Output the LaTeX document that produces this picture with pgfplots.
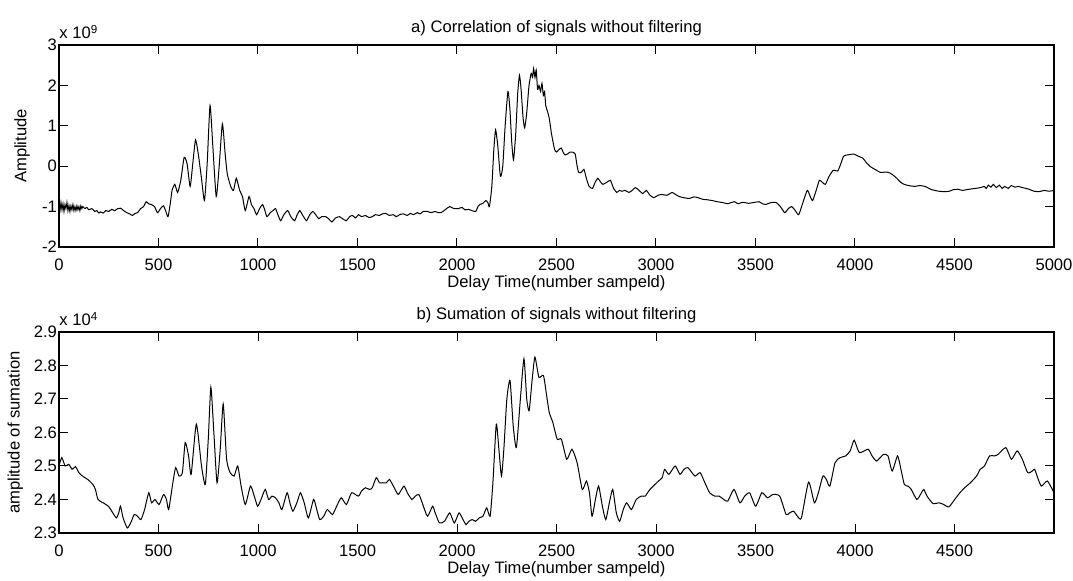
\documentclass[border=0pt]{standalone}
\usepackage{fontspec}
\setmainfont{Liberation Sans}
\usepackage{pgfplots}
\pgfplotsset{compat=1.18}
\begin{document}
\begin{tikzpicture}
\pgfplotsset{
  mstyle/.style={
    scale only axis, width=497.5pt,
    font=\fontsize{8.3}{9.5}\selectfont,
    tick align=inside, xtick pos=both, ytick pos=both,
    major tick length=4.5pt,
    axis line style={line width=0.6pt},
    every tick/.style={black, line width=0.5pt},
    /pgf/number format/assume math mode=true,
    /pgf/number format/1000 sep={},
    scaled ticks=false,
    xticklabel style={yshift=-2.5pt},
    yticklabel style={xshift=2.5pt},
    title style={at={(0.5,1)}, anchor=base},
    xlabel style={at={(0.5,0)}, anchor=base, yshift=-20.5pt},
    clip mode=individual,
  }
}
\path[use as bounding box] (0,0) rectangle (536.5pt,290.5pt);
% ---------------- top axis ----------------
\begin{axis}[mstyle, at={(29.5pt,167pt)}, anchor=south west, height=101pt,
  xmin=0, xmax=5000, ymin=-2, ymax=3,
  xtick={0,500,...,5000}, ytick={-2,-1,0,1,2,3},
  title={a) Correlation of signals without filtering},
  xlabel={Delay Time(number sampeld)},
  ylabel={Amplitude},
  ylabel style={at={(axis description cs:-0.037,0.5)}, anchor=center},
]
\addplot[black, line width=0.5pt] coordinates {
(0,-0.95)(5,-1.1)(10,-0.9)(15,-1.08)(20,-0.93)(25,-1.12)(30,-0.95)(35,-1.05)(40,-0.9)(45,-1.1)
(50,-0.97)(55,-1.12)(60,-0.98)(65,-1.08)(70,-0.95)(75,-1.1)(80,-1.0)(85,-1.1)(90,-0.98)(95,-1.08)
(100,-1.0)(105,-1.1)(110,-0.98)(115,-1.05)(120,-1.0)(130,-1.05)
};
\addplot[black, line width=0.5pt, smooth, tension=0.35] coordinates {
(130,-1.05)(140,-1.02)(150,-1.08)(165,-1.05)
(180,-1.12)(190,-1.1)(200,-1.16)(210,-1.13)(222,-1.16)(235,-1.1)(250,-1.12)(265,-1.07)(280,-1.1)
(295,-1.05)(310,-1.04)(325,-1.1)(340,-1.15)(355,-1.18)(369,-1.22)(382,-1.17)(395,-1.15)(410,-1.05)
(425,-1.0)(438,-0.88)(450,-0.93)(464,-0.95)(480,-1.0)(495,-1.15)(510,-1.05)(525,-0.98)(537,-1.12)
(548,-1.25)(560,-0.9)(568,-0.6)(582,-0.45)(596,-0.65)(612,-0.35)(629,0.22)(644,0.05)(659,-0.5)
(672,0.05)(686,0.65)(700,0.3)(716,-0.3)(731,-0.85)(745,0.1)(759,1.5)(773,0.5)(790,-0.75)(805,0.0)
(821,1.05)(835,0.3)(846,-0.2)(863,-0.5)(877,-0.6)(891,-0.3)(908,-0.6)(922,-0.75)(936,-1.1)(955,-0.75)
(967,-0.95)(980,-1.05)(993,-1.2)(1008,-1.05)(1023,-0.95)(1035,-1.1)(1045,-1.25)(1062,-1.15)(1075,-1.1)
(1088,-1.05)(1100,-1.2)(1114,-1.35)(1130,-1.2)(1149,-1.1)(1165,-1.25)(1184,-1.35)(1197,-1.2)(1210,-1.1)
(1225,-1.22)(1244,-1.35)(1260,-1.2)(1276,-1.12)(1290,-1.2)(1305,-1.3)(1320,-1.25)(1340,-1.25)(1355,-1.3)
(1371,-1.38)(1390,-1.28)(1409,-1.25)(1425,-1.3)(1444,-1.35)(1460,-1.25)(1475,-1.22)(1490,-1.28)
(1505,-1.2)(1520,-1.25)(1540,-1.22)(1557,-1.27)(1574,-1.25)(1590,-1.2)(1610,-1.22)(1625,-1.18)
(1643,-1.17)(1660,-1.22)(1680,-1.2)(1695,-1.25)(1712,-1.2)(1730,-1.18)(1750,-1.22)(1765,-1.17)
(1782,-1.2)(1800,-1.15)(1815,-1.18)(1830,-1.12)(1851,-1.12)(1870,-1.15)(1890,-1.12)(1905,-1.15)
(1920,-1.15)(1940,-1.08)(1963,-1.0)(1985,-1.05)(2007,-1.05)(2025,-1.02)(2040,-1.08)(2059,-1.07)
(2075,-1.1)(2094,-1.12)(2105,-1.0)(2114,-0.95)(2130,-0.92)(2145,-0.85)(2155,-0.9)(2163,-1.0)
(2175,-0.5)(2185,0.4)(2194,0.9)(2205,0.5)(2218,-0.25)(2230,0.0)(2242,1.0)(2256,1.85)(2266,1.4)
(2275,0.6)(2284,0.15)(2295,0.8)(2305,1.8)(2314,2.25)(2322,1.9)(2332,1.2)(2340,0.95)(2350,1.3)
(2362,2.0)(2373,2.3)(2380,2.2)(2385,2.42)(2392,2.2)(2398,2.38)(2405,1.9)(2412,2.0)(2420,1.85)
(2427,2.05)(2434,1.75)(2440,1.85)(2446,1.5)(2455,1.35)(2463,1.2)(2475,0.8)(2490,0.42)(2500,0.35)
(2510,0.4)(2524,0.45)(2533,0.35)(2542,0.28)(2555,0.3)(2568,0.35)(2580,0.35)(2594,0.3)(2602,0.05)
(2611,-0.15)(2625,-0.15)(2638,-0.08)(2650,-0.3)(2664,-0.5)(2681,-0.55)(2694,-0.4)(2707,-0.3)
(2720,-0.38)(2733,-0.45)(2752,-0.4)(2771,-0.35)(2787,-0.55)(2803,-0.65)(2816,-0.6)(2829,-0.62)
(2846,-0.6)(2864,-0.65)(2880,-0.6)(2896,-0.53)(2915,-0.6)(2934,-0.68)(2951,-0.6)(2970,-0.72)
(2989,-0.78)(3010,-0.72)(3029,-0.7)(3055,-0.72)(3081,-0.65)(3098,-0.7)(3116,-0.75)(3140,-0.78)
(3168,-0.8)(3190,-0.76)(3212,-0.78)(3235,-0.82)(3256,-0.83)(3282,-0.85)(3308,-0.88)(3335,-0.9)
(3360,-0.93)(3378,-0.9)(3395,-0.88)(3412,-0.93)(3430,-0.9)(3447,-0.9)(3464,-0.92)(3490,-0.9)
(3517,-0.88)(3535,-0.93)(3551,-0.95)(3578,-0.9)(3604,-0.9)(3625,-1.0)(3647,-1.15)(3665,-1.05)
(3682,-1.0)(3700,-1.1)(3717,-1.2)(3735,-0.95)(3760,-0.6)(3775,-0.75)(3787,-0.85)(3805,-0.6)
(3821,-0.35)(3836,-0.4)(3851,-0.45)(3870,-0.25)(3891,-0.1)(3913,-0.12)(3928,0.05)(3943,0.25)
(3965,0.28)(3995,0.3)(4015,0.25)(4039,0.2)(4055,0.1)(4074,0.0)(4090,-0.05)(4108,-0.1)(4125,-0.15)
(4143,-0.15)(4165,-0.15)(4186,-0.2)(4210,-0.3)(4230,-0.4)(4247,-0.45)(4270,-0.48)(4300,-0.5)
(4325,-0.48)(4352,-0.5)(4385,-0.58)(4422,-0.62)(4448,-0.63)(4474,-0.62)(4495,-0.58)(4517,-0.57)
(4540,-0.6)(4561,-0.58)(4590,-0.56)(4631,-0.53)(4650,-0.5)(4660,-0.55)(4670,-0.47)(4683,-0.52)
(4695,-0.45)(4710,-0.53)(4725,-0.47)(4740,-0.55)(4752,-0.5)(4770,-0.55)(4785,-0.48)(4805,-0.52)
(4820,-0.5)(4840,-0.53)(4860,-0.55)(4874,-0.57)(4900,-0.62)(4926,-0.63)(4950,-0.6)(4975,-0.62)(5000,-0.6)
};
\node[anchor=base west, inner sep=0pt, yshift=3pt] at (rel axis cs:0,1) {x 10\textsuperscript{9}};
\end{axis}
% ---------------- bottom axis ----------------
\begin{axis}[mstyle, at={(29.5pt,24pt)}, anchor=south west, height=100.5pt,
  xmin=0, xmax=4999, ymin=2.3, ymax=2.9,
  xtick={0,500,...,4500}, ytick={2.3,2.4,...,2.9},
  yticklabel style={/pgf/number format/.cd, fixed, fixed zerofill, precision=1},
  title={b) Sumation of signals without filtering},
  xlabel={Delay Time(number sampeld)},
  ylabel={amplitude of sumation},
  ylabel style={at={(axis description cs:-0.044,0.5)}, anchor=center},
]
\addplot[black, line width=0.5pt, smooth, tension=0.35] coordinates {
(0,2.5)(14,2.525)(31,2.5)(49,2.505)(66,2.49)(83,2.498)(100,2.48)(118,2.47)(144,2.46)(170,2.445)
(183,2.43)(196,2.4)(222,2.39)(248,2.38)(265,2.365)(288,2.345)(300,2.36)(309,2.38)(322,2.345)
(343,2.315)(360,2.33)(378,2.355)(395,2.35)(412,2.34)(430,2.37)(451,2.42)(465,2.39)(482,2.4)
(503,2.385)(525,2.415)(540,2.4)(551,2.37)(572,2.45)(586,2.495)(603,2.47)(620,2.48)(634,2.57)
(651,2.53)(664,2.475)(690,2.625)(716,2.5)(735,2.445)(750,2.58)(763,2.735)(778,2.6)(794,2.45)
(810,2.55)(825,2.685)(842,2.52)(860,2.48)(880,2.47)(898,2.5)(915,2.44)(936,2.385)(962,2.44)
(981,2.41)(998,2.38)(1015,2.4)(1036,2.43)(1053,2.4)(1070,2.41)(1088,2.405)(1105,2.39)(1120,2.37)
(1146,2.42)(1160,2.39)(1175,2.365)(1195,2.39)(1213,2.42)(1232,2.39)(1253,2.345)(1279,2.4)
(1295,2.37)(1310,2.34)(1330,2.35)(1348,2.37)(1374,2.355)(1395,2.38)(1418,2.405)(1444,2.385)
(1470,2.42)(1504,2.41)(1520,2.425)(1539,2.435)(1560,2.43)(1574,2.435)(1594,2.465)(1610,2.45)
(1626,2.45)(1645,2.45)(1660,2.46)(1680,2.44)(1704,2.415)(1733,2.44)(1750,2.42)(1773,2.4)
(1790,2.41)(1808,2.415)(1825,2.39)(1851,2.35)(1877,2.38)(1890,2.36)(1911,2.33)(1937,2.335)
(1963,2.36)(1986,2.33)(2010,2.36)(2030,2.34)(2045,2.325)(2060,2.335)(2076,2.34)(2093,2.335)
(2111,2.345)(2130,2.35)(2149,2.375)(2166,2.35)(2180,2.45)(2197,2.625)(2210,2.55)(2223,2.47)
(2235,2.55)(2250,2.7)(2266,2.755)(2282,2.62)(2298,2.555)(2318,2.7)(2336,2.82)(2350,2.7)
(2362,2.665)(2376,2.75)(2391,2.825)(2411,2.765)(2434,2.77)(2450,2.71)(2463,2.66)(2481,2.63)
(2503,2.58)(2524,2.58)(2551,2.52)(2577,2.55)(2603,2.51)(2629,2.43)(2650,2.455)(2665,2.42)
(2678,2.35)(2695,2.4)(2711,2.44)(2730,2.38)(2747,2.34)(2765,2.39)(2782,2.43)(2800,2.36)
(2817,2.335)(2835,2.37)(2852,2.39)(2876,2.37)(2900,2.4)(2925,2.41)(2945,2.41)(2969,2.43)
(3012,2.455)(3030,2.465)(3043,2.49)(3064,2.475)(3096,2.5)(3120,2.475)(3140,2.49)(3160,2.495)
(3195,2.47)(3221,2.48)(3245,2.45)(3269,2.42)(3295,2.41)(3317,2.41)(3340,2.4)(3360,2.395)
(3391,2.43)(3421,2.39)(3445,2.41)(3470,2.42)(3500,2.38)(3531,2.42)(3560,2.405)(3586,2.415)
(3621,2.41)(3653,2.355)(3670,2.36)(3691,2.365)(3710,2.35)(3730,2.345)(3766,2.452)(3795,2.39)
(3815,2.42)(3838,2.47)(3855,2.46)(3873,2.44)(3899,2.51)(3925,2.525)(3952,2.53)(3975,2.545)
(3995,2.577)(4021,2.54)(4065,2.55)(4085,2.53)(4108,2.515)(4143,2.535)(4165,2.53)(4186,2.485)
(4213,2.53)(4230,2.49)(4247,2.445)(4265,2.44)(4282,2.43)(4310,2.4)(4331,2.418)(4345,2.43)
(4361,2.41)(4391,2.388)(4422,2.39)(4445,2.385)(4471,2.378)(4500,2.4)(4526,2.42)(4550,2.435)
(4579,2.45)(4610,2.47)(4628,2.49)(4650,2.5)(4675,2.53)(4700,2.53)(4719,2.535)(4757,2.555)
(4785,2.52)(4814,2.545)(4840,2.52)(4867,2.48)(4890,2.485)(4902,2.49)(4920,2.46)(4936,2.44)
(4966,2.455)(4999,2.42)
};
\node[anchor=base west, inner sep=0pt, yshift=3pt] at (rel axis cs:0,1) {x 10\textsuperscript{4}};
\end{axis}
\end{tikzpicture}
\end{document}
